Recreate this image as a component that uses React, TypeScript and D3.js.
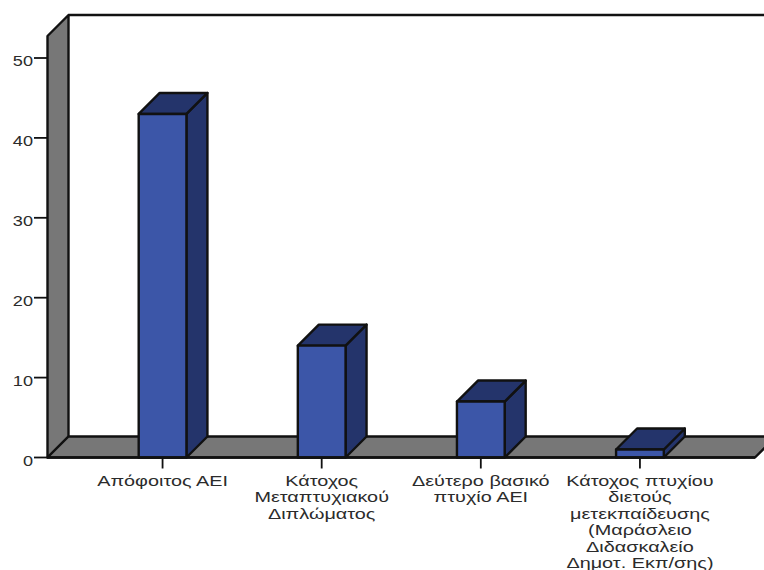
import React from "react";
import * as d3 from "d3";

const categories = ["Απόφοιτος ΑΕΙ", "Κάτοχος Μεταπτυχιακού Διπλώματος", "Δεύτερο βασικό πτυχίο ΑΕΙ", "Κάτοχος πτυχίου διετούς μετεκπαίδευσης"];
const categoryLines = [
  ["Απόφοιτος ΑΕΙ"],
  ["Κάτοχος", "Μεταπτυχιακού", "Διπλώματος"],
  ["Δεύτερο βασικό", "πτυχίο ΑΕΙ"],
  ["Κάτοχος πτυχίου", "διετούς", "μετεκπαίδευσης", "(Μαράσλειο", "Διδασκαλείο", "Δημοτ. Εκπ/σης)"],
];
const counts = [43, 14, 7, 1];
const yTicks = [0, 10, 20, 30, 40, 50];

const W = 764;
const H = 570;
const wallLeft = 47.5;
const depth = 21;
const y = d3.scaleLinear().domain([0, 50]).range([457.5, 58]);
const x = d3.scaleBand<string>().domain(categories).range([83, 719.5]).paddingInner(0.7).paddingOuter(0.35);
const wallTop = 36;

const FRONT = "#3c56a8";
const SHADE = "#24346b";
const WALL = "#777777";
const INK = "#111111";
const TEXT = "#2b2b2b";
const STROKE = 2.4;

const poly = (pts: [number, number][]) => d3.line()(pts)! + "Z";

function Label({ cx, cy, children, anchor, stretch }: { cx: number; cy: number; children: string; anchor: "middle" | "end"; stretch: number }) {
  return (
    <text transform={`translate(${cx},${cy}) scale(${stretch},1)`} textAnchor={anchor} fontSize={15.5} fill={TEXT}>
      {children}
    </text>
  );
}

export default function App() {
  const y0 = y(0);
  const floorRight = 755;
  return (
    <svg
      width={W}
      height={H}
      viewBox={`0 0 ${W} ${H}`}
      style={{ position: "absolute", left: 0, top: 0, background: "#fff" }}
      fontFamily="'Liberation Sans', Arial, sans-serif"
    >
      {/* back wall edge and side wall */}
      <path
        d={poly([[wallLeft, wallTop], [wallLeft + depth, wallTop - depth], [wallLeft + depth, y0 - depth], [wallLeft, y0]])}
        fill={WALL}
        stroke={INK}
        strokeWidth={STROKE}
        strokeLinejoin="round"
      />
      <line x1={wallLeft + depth} x2={W} y1={wallTop - depth} y2={wallTop - depth} stroke={INK} strokeWidth={STROKE} />
      {/* floor */}
      <path
        d={poly([[wallLeft, y0], [wallLeft + depth, y0 - depth], [W + 2, y0 - depth], [W + 2, y0 - 11], [floorRight, y0]])}
        fill={WALL}
        stroke={INK}
        strokeWidth={STROKE}
        strokeLinejoin="round"
      />
      {/* value axis */}
      {yTicks.map((t) => (
        <g key={t}>
          <line x1={34} x2={wallLeft} y1={y(t)} y2={y(t)} stroke={INK} strokeWidth={1.8} />
          <Label cx={33} cy={y(t) + 8} anchor="end" stretch={1.17}>{String(t)}</Label>
        </g>
      ))}
      {/* category axis ticks and wrapped labels */}
      {categories.map((c, i) => {
        const cx = x(c)! + x.bandwidth() / 2;
        return (
          <g key={c}>
            <line x1={cx} x2={cx} y1={y0} y2={y0 + 11} stroke={INK} strokeWidth={1.8} />
            {categoryLines[i].map((ln, j) => (
              <Label key={j} cx={cx} cy={486 + j * 16.4} anchor="middle" stretch={1.28}>{ln}</Label>
            ))}
          </g>
        );
      })}
      {/* 3D bars */}
      {categories.map((c, i) => {
        const x0 = x(c)!;
        const x1 = x0 + x.bandwidth();
        const top = y(counts[i]);
        return (
          <g key={c} stroke={INK} strokeWidth={STROKE} strokeLinejoin="round">
            <path d={poly([[x1, top], [x1 + depth, top - depth], [x1 + depth, y0 - depth], [x1, y0]])} fill={SHADE} />
            <path d={poly([[x0, top], [x0 + depth, top - depth], [x1 + depth, top - depth], [x1, top]])} fill={SHADE} />
            <rect x={x0} y={top} width={x1 - x0} height={y0 - top} fill={FRONT} />
          </g>
        );
      })}
      {/* front floor edge drawn over the bar bases */}
      <line x1={wallLeft} x2={floorRight} y1={y0} y2={y0} stroke={INK} strokeWidth={STROKE} />
    </svg>
  );
}
